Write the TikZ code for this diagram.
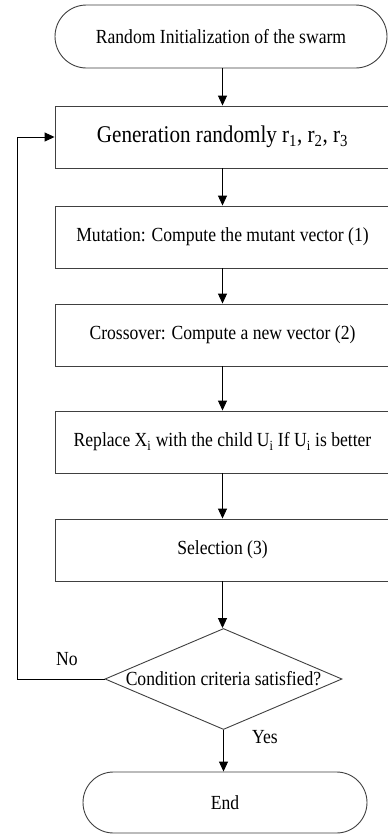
\documentclass[tikz,border=0pt]{standalone}
\usepackage{fontspec}
\setmainfont{Liberation Serif}[FakeStretch=0.88]
\usetikzlibrary{arrows.meta,shapes.geometric,shapes.misc}
\begin{document}
\begin{tikzpicture}[x=1pt,y=1pt,
  line width=0.9pt,
  txt/.style={font=\fontsize{20}{22}\selectfont},
  box/.style={draw=black!75, rectangle, inner sep=0pt, minimum width=335pt, minimum height=62pt, txt},
  term/.style={draw=black!75, rounded rectangle, inner sep=0pt, minimum height=62pt, txt},
  arr/.style={draw=black, -{Triangle[width=9pt,length=10pt]}},
  lbl/.style={txt, inner sep=0pt}]
\useasboundingbox (0,0) rectangle (388,-836);
\clip (0,0) rectangle (388,-836);
\fill[white] (0,0) rectangle (388,-836);
\node[term, minimum width=332pt, minimum height=63pt] (start) at (221,-36.5) {Random Initialization of the swarm};
\node[box, font=\fontsize{24}{26}\selectfont] (gen) at (222.5,-137) {Generation randomly r\textsubscript{1}, r\textsubscript{2}, r\textsubscript{3}};
\node[box] (mut) at (222.5,-237) {Mutation: Compute the mutant vector (1)};
\node[box] (cro) at (222.5,-335) {Crossover: Compute a new vector (2)};
\node[box] (rep) at (222.5,-442) {Replace X\textsubscript{i} with the child U\textsubscript{i} If U\textsubscript{i} is better};
\node[box] (sel) at (222.5,-550) {Selection (3)};
\node[draw=black!75, diamond, inner sep=0pt, minimum width=237pt, minimum height=101pt, aspect=2.35] (dec) at (223.5,-679) {};
\node[lbl] (dect) at (223.5,-679) {Condition criteria satisfied?};
\node[term, minimum width=284pt, minimum height=61pt] (end) at (225,-802.5) {End};
\coordinate (loop) at (17,-679);
\draw[arr] (start.south -| gen.north) -- (gen.north);
\draw[arr] (gen.south) -- (mut.north);
\draw[arr] (mut.south) -- (cro.north);
\draw[arr] (cro.south) -- (rep.north);
\draw[arr] (rep.south) -- (sel.north);
\draw[arr] (sel.south) -- (sel.south |- dec.north);
\draw[arr] (dec.south) -- (dec.south |- end.north);
\draw[arr] (dec.west) -- (loop) |- (gen.west);
\node[lbl] (no) at (67,-659) {No};
\node[lbl] (yes) at (265,-737) {Yes};
\end{tikzpicture}
\end{document}
